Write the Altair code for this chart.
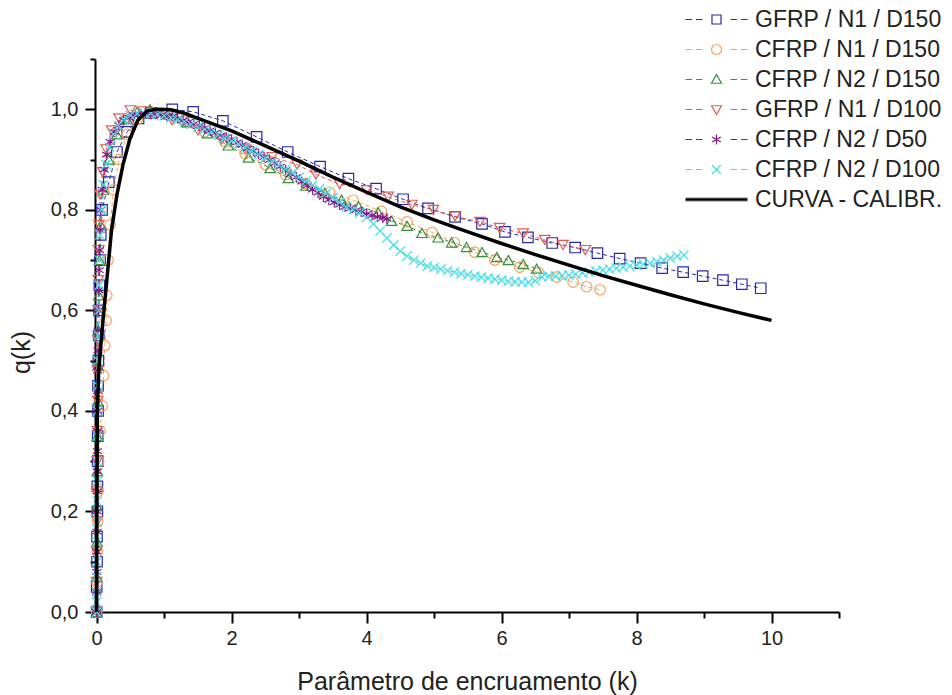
import altair as alt
import pandas as pd

# ---------------- data ----------------
SERIES = ["GFRP / N1 / D150", "CFRP / N1 / D150", "CFRP / N2 / D150",
          "GFRP / N1 / D100", "CFRP / N2 / D50", "CFRP / N2 / D100"]
CALIB_LABEL = "CURVA - CALIBR."
COLORS = ["#2a2aa8", "#f2a35c", "#3b8e3b", "#e85a50", "#8b168b", "#40e0e8"]

X_TICKS = [0, 1, 2, 3, 4, 5, 6, 7, 8, 9, 10, 11]
Y_TICKS = [0.0, 0.1, 0.2, 0.3, 0.4, 0.5, 0.6, 0.7, 0.8, 0.9, 1.0, 1.1]

GFRP_N1_D150 = [(0.0, 0.0), (0.0, 0.05), (0.005, 0.1), (0.005, 0.15), (0.01, 0.2), (0.01, 0.25),
                (0.015, 0.3), (0.015, 0.35), (0.02, 0.4), (0.02, 0.45), (0.025, 0.5), (0.03, 0.55),
                (0.035, 0.6), (0.04, 0.65), (0.05, 0.7), (0.06, 0.75), (0.08, 0.8), (0.18, 0.855),
                (0.3, 0.915), (0.45, 0.955), (0.62, 0.982), (0.8, 0.993), (1.12, 1.0), (1.43, 0.995),
                (1.87, 0.977), (2.37, 0.945), (2.83, 0.915), (3.31, 0.886), (3.73, 0.862), (4.14, 0.842),
                (4.54, 0.821), (4.91, 0.803), (5.31, 0.786), (5.71, 0.772), (6.05, 0.756), (6.39, 0.745),
                (6.75, 0.734), (7.09, 0.725), (7.42, 0.714), (7.75, 0.703), (8.06, 0.694), (8.38, 0.684),
                (8.69, 0.676), (8.98, 0.668), (9.28, 0.66), (9.56, 0.652), (9.84, 0.644)]

CFRP_N1_D150 = [(0.0, 0.0), (0.005, 0.06), (0.01, 0.12), (0.015, 0.18), (0.02, 0.24), (0.03, 0.3),
                (0.05, 0.36), (0.08, 0.41), (0.1, 0.47), (0.12, 0.53), (0.14, 0.58), (0.15, 0.63),
                (0.17, 0.7), (0.2, 0.77), (0.25, 0.84), (0.33, 0.9), (0.45, 0.95), (0.6, 0.98),
                (0.8, 0.995), (1.05, 0.99), (1.3, 0.975), (1.6, 0.955), (1.9, 0.935), (2.2, 0.912),
                (2.5, 0.89), (2.8, 0.87), (3.1, 0.852), (3.45, 0.835), (3.8, 0.819), (4.22, 0.797),
                (4.6, 0.776), (4.97, 0.755), (5.3, 0.735), (5.6, 0.716), (5.9, 0.7), (6.27, 0.686),
                (6.55, 0.675), (6.82, 0.666), (7.06, 0.656), (7.26, 0.647), (7.46, 0.641)]

CFRP_N2_D150 = [(0.0, 0.0), (0.0, 0.07), (0.005, 0.14), (0.005, 0.21), (0.01, 0.28), (0.01, 0.35),
                (0.015, 0.42), (0.02, 0.49), (0.025, 0.56), (0.03, 0.63), (0.04, 0.7), (0.06, 0.77),
                (0.1, 0.84), (0.18, 0.9), (0.3, 0.95), (0.45, 0.98), (0.6, 0.995), (0.79, 1.0),
                (1.05, 0.99), (1.34, 0.974), (1.64, 0.952), (1.95, 0.928), (2.25, 0.904), (2.57, 0.883),
                (2.84, 0.863), (3.1, 0.848), (3.38, 0.834), (3.63, 0.82), (3.88, 0.807), (4.17, 0.795),
                (4.37, 0.778), (4.6, 0.768), (4.82, 0.754), (5.06, 0.745), (5.26, 0.735), (5.48, 0.726),
                (5.71, 0.716), (5.93, 0.706), (6.1, 0.7), (6.32, 0.692), (6.52, 0.683)]

GFRP_N1_D100 = [(0.0, 0.0), (0.0, 0.06), (0.0, 0.12), (0.005, 0.18), (0.005, 0.24), (0.01, 0.3),
                (0.01, 0.36), (0.015, 0.42), (0.015, 0.48), (0.02, 0.54), (0.02, 0.6), (0.025, 0.66),
                (0.03, 0.72), (0.035, 0.77), (0.05, 0.83), (0.09, 0.875), (0.14, 0.92), (0.22, 0.958),
                (0.33, 0.982), (0.5, 0.998), (0.68, 0.996), (0.9, 0.99), (1.12, 0.978), (1.5, 0.958),
                (1.85, 0.94), (2.2, 0.92), (2.6, 0.905), (2.97, 0.89), (3.25, 0.87), (3.6, 0.851),
                (4.0, 0.839), (4.32, 0.826), (4.67, 0.81), (4.99, 0.8), (5.31, 0.787), (5.68, 0.776),
                (5.97, 0.764), (6.32, 0.753), (6.64, 0.74), (6.91, 0.73), (7.24, 0.72)]

CFRP_N2_D50 = [(0.0, 0.0), (0.0, 0.04), (0.003, 0.08), (0.003, 0.12), (0.005, 0.16), (0.005, 0.2),
               (0.008, 0.24), (0.008, 0.28), (0.01, 0.32), (0.01, 0.36), (0.012, 0.4), (0.015, 0.44),
               (0.015, 0.48), (0.02, 0.52), (0.02, 0.56), (0.025, 0.6), (0.03, 0.64), (0.035, 0.68),
               (0.04, 0.72), (0.05, 0.76), (0.06, 0.8), (0.08, 0.84), (0.11, 0.88), (0.15, 0.91),
               (0.2, 0.935), (0.26, 0.955), (0.33, 0.968), (0.4, 0.978), (0.48, 0.983), (0.56, 0.988),
               (0.64, 0.99), (0.72, 0.991), (0.8, 0.99), (0.88, 0.991), (0.96, 0.989), (1.04, 0.987),
               (1.12, 0.986), (1.2, 0.982), (1.28, 0.978), (1.36, 0.975), (1.44, 0.971), (1.52, 0.967),
               (1.6, 0.963), (1.68, 0.958), (1.76, 0.953), (1.84, 0.948), (1.92, 0.944), (2.0, 0.94),
               (2.08, 0.934), (2.16, 0.929), (2.24, 0.922), (2.32, 0.917), (2.4, 0.911), (2.48, 0.905),
               (2.56, 0.899), (2.64, 0.893), (2.72, 0.886), (2.8, 0.879), (2.88, 0.871), (2.96, 0.865),
               (3.04, 0.856), (3.12, 0.848), (3.2, 0.84), (3.28, 0.834), (3.36, 0.826), (3.44, 0.82),
               (3.52, 0.815), (3.6, 0.81), (3.68, 0.806), (3.76, 0.803), (3.84, 0.799), (3.92, 0.796),
               (4.0, 0.792), (4.08, 0.789), (4.16, 0.786), (4.24, 0.784), (4.3, 0.782)]

CFRP_N2_D100 = [(0.0, 0.0), (0.0, 0.02), (0.0, 0.04), (0.003, 0.07), (0.003, 0.1), (0.005, 0.14),
                (0.005, 0.18), (0.008, 0.22), (0.01, 0.26), (0.01, 0.3), (0.012, 0.35), (0.015, 0.4),
                (0.018, 0.45), (0.02, 0.5), (0.025, 0.55), (0.03, 0.6), (0.035, 0.65), (0.04, 0.7),
                (0.05, 0.75), (0.07, 0.8), (0.1, 0.85), (0.14, 0.89), (0.19, 0.925), (0.25, 0.95),
                (0.32, 0.968), (0.4, 0.98), (0.5, 0.988), (0.6, 0.992), (0.7, 0.993), (0.8, 0.992),
                (0.9, 0.99), (1.0, 0.987), (1.1, 0.983), (1.2, 0.979), (1.3, 0.975), (1.4, 0.97),
                (1.5, 0.965), (1.6, 0.96), (1.7, 0.955), (1.8, 0.949), (1.9, 0.943), (2.0, 0.937),
                (2.1, 0.931), (2.2, 0.924), (2.3, 0.917), (2.4, 0.91), (2.5, 0.903), (2.6, 0.896),
                (2.7, 0.889), (2.8, 0.881), (2.9, 0.873), (3.0, 0.865), (3.1, 0.857), (3.2, 0.849),
                (3.3, 0.841), (3.4, 0.833), (3.5, 0.824), (3.6, 0.815), (3.7, 0.806), (3.8, 0.8),
                (3.9, 0.794), (4.0, 0.785), (4.1, 0.772), (4.2, 0.758), (4.3, 0.744), (4.4, 0.73),
                (4.5, 0.718), (4.6, 0.708), (4.7, 0.7), (4.8, 0.694), (4.9, 0.688), (5.0, 0.685),
                (5.1, 0.682), (5.2, 0.679), (5.3, 0.676), (5.4, 0.673), (5.5, 0.671), (5.6, 0.668),
                (5.7, 0.666), (5.8, 0.664), (5.9, 0.662), (6.0, 0.66), (6.1, 0.658), (6.2, 0.657),
                (6.3, 0.656), (6.4, 0.656), (6.5, 0.659), (6.6, 0.666), (6.7, 0.668), (6.8, 0.668),
                (6.9, 0.669), (7.0, 0.67), (7.1, 0.672), (7.2, 0.674), (7.3, 0.676), (7.4, 0.678),
                (7.5, 0.68), (7.6, 0.682), (7.7, 0.684), (7.8, 0.686), (7.9, 0.688), (8.0, 0.69),
                (8.1, 0.692), (8.2, 0.694), (8.3, 0.697), (8.4, 0.7), (8.5, 0.704), (8.6, 0.708),
                (8.7, 0.71)]

CURVA_CALIBR = [(0.0, 0.0), (0.003, 0.2), (0.01, 0.4), (0.03, 0.48), (0.08, 0.56), (0.15, 0.66),
                (0.22, 0.76), (0.3, 0.83), (0.39, 0.89), (0.49, 0.94), (0.61, 0.978), (0.75, 0.997),
                (0.9, 1.0), (1.1, 0.999), (1.3, 0.992), (1.5, 0.982), (2.0, 0.957), (2.5, 0.927),
                (3.0, 0.897), (3.5, 0.865), (4.0, 0.835), (4.5, 0.806), (5.0, 0.78), (5.5, 0.756),
                (6.0, 0.733), (6.5, 0.711), (7.0, 0.69), (7.5, 0.669), (8.0, 0.65), (8.5, 0.631),
                (9.0, 0.613), (9.5, 0.596), (10.0, 0.58)]

ALL_SERIES = [GFRP_N1_D150, CFRP_N1_D150, CFRP_N2_D150, GFRP_N1_D100, CFRP_N2_D50, CFRP_N2_D100]

# ---------------- tables ----------------
rows = []
for name, pts in zip(SERIES, ALL_SERIES):
    for i, (k, q) in enumerate(pts):
        rows.append({"series": name, "k": k, "q": q, "i": i})
df = pd.DataFrame(rows)
calib = pd.DataFrame(CURVA_CALIBR, columns=["k", "q"])

# ---------------- styles ----------------
FONT = "Liberation Sans"
ASTER = "M0,-1L0,1M-0.87,-0.5L0.87,0.5M-0.87,0.5L0.87,-0.5"
XMARK = "M-0.9,-0.9L0.9,0.9M-0.9,0.9L0.9,-0.9"
MARKERS = ["square", "circle", "triangle-up", "triangle-down", ASTER, XMARK]

DASH = "M-6.2,0L-4.9,0M-4.1,0L-2.8,0M2.8,0L4.1,0M4.9,0L6.2,0"
LEG_PATHS = [
    DASH + "M-0.9,-0.9L0.9,-0.9L0.9,0.9L-0.9,0.9Z",
    DASH + "M-1,0A1,1 0 1,0 1,0A1,1 0 1,0 -1,0Z",
    DASH + "M0,-1L1,0.75L-1,0.75Z",
    DASH + "M0,1L1,-0.75L-1,-0.75Z",
    DASH + ASTER,
    DASH + XMARK,
    "M-6.2,-0.25L6.2,-0.25M-6.2,0L6.2,0M-6.2,0.25L6.2,0.25",
]

x_enc = alt.X("k:Q", scale=alt.Scale(domain=[-0.025, 11], nice=False, zero=False),
              axis=alt.Axis(title="Parâmetro de encruamento (k)", values=X_TICKS,
                            labelExpr="datum.value % 2 == 1 ? '' : format(datum.value, 'd')",
                            tickSize={"condition": {"test": "datum.value % 2 == 1", "value": 6}, "value": 11},
                            labelPadding=5, labelOverlap=False, labelFontSize=20,
                            titleFontSize=25, titleY=77, titleBaseline="alphabetic"))
y_enc = alt.Y("q:Q", scale=alt.Scale(domain=[0, 1.1], nice=False, zero=False),
              axis=alt.Axis(title="q(k)", values=Y_TICKS,
                            labelExpr="round(datum.value * 10) % 2 == 1 ? '' : replace(format(datum.value, '.1f'), '.', ',')",
                            tickSize={"condition": {"test": "round(datum.value * 10) % 2 == 1", "value": 5}, "value": 10},
                            labelPadding=7, labelOverlap=False, labelFontSize=20,
                            titleFontSize=25, titleX=-66, titleY=293, titleAngle=270,
                            titleAlign="center", titleBaseline="alphabetic"))

color_main = alt.Color("series:N", scale=alt.Scale(domain=SERIES, range=COLORS), legend=None)

lines = alt.Chart(df).mark_line(strokeWidth=1, strokeDash=[4, 3]).encode(
    x=x_enc, y=y_enc, color=color_main, detail="series:N", order="i:Q")

points = alt.Chart(df).mark_point(filled=False, opacity=1, strokeWidth=1.2, size=110).encode(
    x=x_enc, y=y_enc, color=color_main,
    shape=alt.Shape("series:N", scale=alt.Scale(domain=SERIES, range=MARKERS), legend=None))

curve = alt.Chart(calib).mark_line(color="black", strokeWidth=3.5).encode(x=x_enc, y=y_enc)

leg = alt.Legend(title=None, orient="none", legendX=610, legendY=-51, padding=0,
                 symbolSize=100, symbolStrokeWidth=1.2, labelFont=FONT, labelFontSize=23,
                 labelColor="#222222", labelOffset=27, rowPadding=6, labelLimit=400)
legend_layer = alt.Chart(df).transform_filter("false").mark_point(
    filled=False, opacity=1, strokeWidth=1.2, size=100).encode(
    x=x_enc, y=y_enc,
    color=alt.Color("series:N", scale=alt.Scale(domain=SERIES + [CALIB_LABEL], range=COLORS + ["black"]), legend=leg),
    shape=alt.Shape("series:N", scale=alt.Scale(domain=SERIES + [CALIB_LABEL], range=LEG_PATHS), legend=leg))

chart = alt.layer(lines, points, curve, legend_layer).resolve_scale(
    color="independent", shape="independent"
).properties(
    width=744, height=553,
    autosize=alt.AutoSizeParams(type="none"),
    padding={"left": 95, "top": 59, "right": 113, "bottom": 83},
    background="white",
).configure_view(stroke=None).configure_axis(
    grid=False, domainColor="black", domainWidth=2, tickColor="black", tickWidth=2,
    labelFont=FONT, labelColor="#222222", titleFont=FONT, titleColor="#222222",
    titleFontWeight="normal",
)

chart.save("out.html", embed_options={"renderer": "svg", "actions": False})
